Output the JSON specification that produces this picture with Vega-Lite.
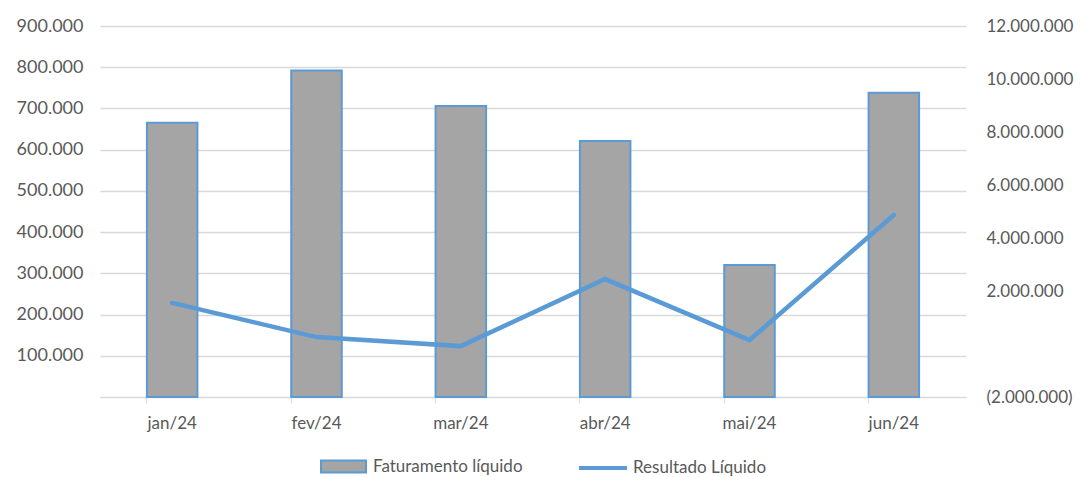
{
  "$schema": "https://vega.github.io/schema/vega-lite/v6.json",
  "width": 866,
  "height": 371,
  "autosize": {"type": "none"},
  "padding": {"left": 100, "top": 26, "right": 120, "bottom": 80},
  "background": "white",
  "config": {
    "view": {"stroke": null},
    "locale": {"number": {"decimal": ",", "thousands": ".", "grouping": [3], "currency": ["R$", ""]}},
    "axis": {"labelFont": "Lato", "labelFontSize": 17, "labelColor": "#595959"}
  },
  "data": {
    "values": [
      {"mes": "jan/24", "faturamento": 665000, "resultado": 1550000},
      {"mes": "fev/24", "faturamento": 792000, "resultado": 260000},
      {"mes": "mar/24", "faturamento": 706000, "resultado": -80000},
      {"mes": "abr/24", "faturamento": 621000, "resultado": 2450000},
      {"mes": "mai/24", "faturamento": 320000, "resultado": 150000},
      {"mes": "jun/24", "faturamento": 738000, "resultado": 4870000}
    ]
  },
  "layer": [
    {
      "mark": {"type": "bar", "stroke": "#5b9bd5", "strokeWidth": 2},
      "encoding": {
        "x": {
          "field": "mes", "type": "nominal", "sort": null,
          "scale": {"paddingInner": 0.65, "paddingOuter": 0.325},
          "axis": {"title": null, "labelAngle": 0, "bandPosition": 0, "domainColor": "#d9d9d9", "tickColor": "#d9d9d9", "tickSize": 6, "labelPadding": 12, "grid": false}
        },
        "y": {
          "field": "faturamento", "type": "quantitative",
          "scale": {"domain": [0, 900000], "nice": false},
          "axis": {"title": null, "labelFontSize": 18, "values": [0,100000,200000,300000,400000,500000,600000,700000,800000,900000], "format": ",.0f", "labelExpr": "datum.value == 0 ? '' : datum.label", "domain": false, "ticks": false, "labelPadding": 17, "grid": true, "gridColor": "#d9d9d9", "gridWidth": 1.5}
        },
        "fill": {
          "datum": "Faturamento líquido",
          "scale": {"range": ["#a5a5a5"]},
          "legend": {"orient": "none", "legendX": 220, "legendY": 417, "title": null, "padding": 0, "symbolType": "M-1,-0.27H1V0.27H-1Z", "symbolSize": 2025, "symbolStrokeColor": "#5b9bd5", "symbolStrokeWidth": 2, "labelFont": "Lato", "labelFontSize": 17, "labelColor": "#595959", "labelOffset": 6,
            "encode": {"symbols": {"update": {"stroke": {"value": "#5b9bd5"}, "strokeWidth": {"value": 2}}}}}
        }
      }
    },
    {
      "mark": {"type": "line", "strokeWidth": 4.5, "strokeCap": "round"},
      "encoding": {
        "x": {"field": "mes", "type": "nominal", "sort": null},
        "y": {
          "field": "resultado", "type": "quantitative",
          "scale": {"domain": [-2000000, 12000000], "nice": false},
          "axis": {"title": null, "orient": "right", "values": [-2000000,0,2000000,4000000,6000000,8000000,10000000,12000000], "labelExpr": "datum.value == 0 ? '' : (datum.value < 0 ? '(' + format(-datum.value, ',.0f') + ')' : format(datum.value, ',.0f'))", "domain": false, "ticks": false, "grid": false, "labelPadding": 20}
        },
        "stroke": {
          "datum": "Resultado Líquido",
          "scale": {"range": ["#5b9bd5"]},
          "legend": {"orient": "none", "legendX": 477, "legendY": 416, "title": null, "padding": 0, "symbolType": "stroke", "symbolSize": 2304, "symbolStrokeWidth": 4, "labelFont": "Lato", "labelFontSize": 17, "labelColor": "#595959", "labelOffset": 4}
        }
      }
    }
  ],
  "resolve": {"scale": {"y": "independent"}}
}
